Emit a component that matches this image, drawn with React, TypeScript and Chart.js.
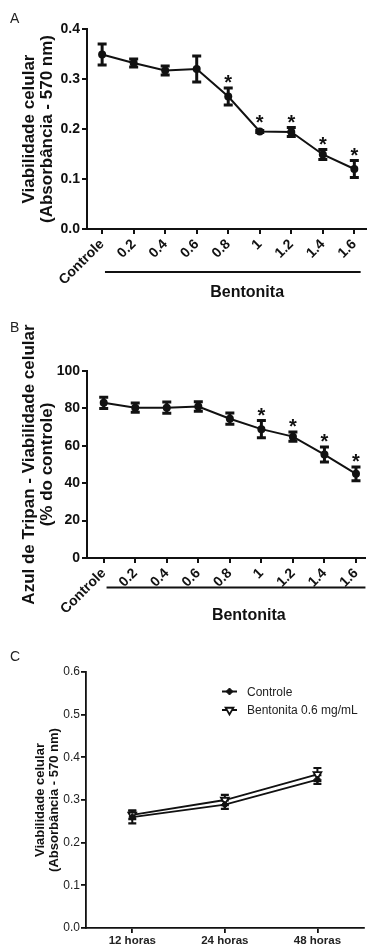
import React, { useEffect, useRef } from 'react';
import { Chart, registerables } from 'chart.js';
import { drawPoint } from 'chart.js/helpers';

Chart.register(...registerables);

const FONT = "'Liberation Sans', Arial, Helvetica, sans-serif";

// ---------- Panel A ----------
const concentracoes = ['Controle', '0.2', '0.4', '0.6', '0.8', '1', '1.2', '1.4', '1.6'];
const absorbanciaA = [0.349, 0.332, 0.317, 0.320, 0.265, 0.195, 0.194, 0.149, 0.120];
const erroA = [0.021, 0.008, 0.009, 0.026, 0.017, 0.002, 0.009, 0.010, 0.017];
const signifA = [false, false, false, false, true, true, true, true, true];
const ticksA = [0, 0.1, 0.2, 0.3, 0.4];
const tituloA = ['Viabilidade celular', '(Absorbância - 570 nm)'];

// ---------- Panel B ----------
const tripanB = [83.0, 80.4, 80.4, 81.0, 74.5, 68.9, 64.9, 55.3, 45.0];
const erroB = [3.0, 2.5, 3.0, 2.5, 3.0, 4.6, 2.5, 4.0, 3.7];
const signifB = [false, false, false, false, false, true, true, true, true];
const ticksB = [0, 20, 40, 60, 80, 100];
const tituloB = ['Azul de Tripan - Viabilidade celular', '(% do controle)'];

// ---------- Panel C ----------
const tempos = ['12 horas', '24 horas', '48 horas'];
const controleC = [0.260, 0.289, 0.348];
const erroControleC = [0.015, 0.010, 0.010];
const bentonitaC = [0.265, 0.300, 0.360];
const erroBentonitaC = [0.010, 0.012, 0.015];
const ticksC = [0, 0.1, 0.2, 0.3, 0.4, 0.5, 0.6];
const tituloC = ['Viabilidade celular', '(Absorbância - 570 nm)'];
const legendaC = ['Controle', 'Bentonita 0.6 mg/mL'];

const INK = '#111';

const errorBarPlugin = {
  id: 'errorBars',
  beforeDatasetsDraw(chart: any, _a: any, opts: any) {
    const ctx = chart.ctx;
    const ys = chart.scales.y;
    chart.data.datasets.forEach((ds: any, i: number) => {
      if (!ds.errors) return;
      const meta = chart.getDatasetMeta(i);
      ctx.save();
      ctx.strokeStyle = opts.color || INK;
      meta.data.forEach((pt: any, j: number) => {
        const v = ds.data[j].y;
        const e = ds.errors[j];
        const x = pt.x;
        const yt = ys.getPixelForValue(v + e);
        const yb = ys.getPixelForValue(v - e);
        ctx.beginPath();
        ctx.lineWidth = opts.stem;
        ctx.moveTo(x, yt);
        ctx.lineTo(x, yb);
        ctx.stroke();
        ctx.beginPath();
        ctx.lineWidth = opts.width;
        ctx.moveTo(x - opts.cap, yt);
        ctx.lineTo(x + opts.cap, yt);
        ctx.moveTo(x - opts.cap, yb);
        ctx.lineTo(x + opts.cap, yb);
        ctx.stroke();
      });
      ctx.restore();
    });
  },
};

const asteriskPlugin = {
  id: 'asterisks',
  afterDatasetsDraw(chart: any, _a: any, opts: any) {
    const ctx = chart.ctx;
    const ys = chart.scales.y;
    chart.data.datasets.forEach((ds: any, i: number) => {
      if (!ds.signif) return;
      const meta = chart.getDatasetMeta(i);
      ctx.save();
      ctx.fillStyle = INK;
      ctx.font = `${opts.weight || 'normal'} ${opts.size}px ${FONT}`;
      ctx.textAlign = 'center';
      ctx.textBaseline = 'alphabetic';
      meta.data.forEach((pt: any, j: number) => {
        if (!ds.signif[j]) return;
        const v = ds.data[j].y;
        const e = ds.errors ? ds.errors[j] : 0;
        const top = Math.min(ys.getPixelForValue(v + e), pt.y - (ds.pointRadius || 0));
        ctx.fillText('*', pt.x, top + opts.shift);
      });
      ctx.restore();
    });
  },
};

const groupLabelPlugin = {
  id: 'groupLabel',
  afterDraw(chart: any, _a: any, opts: any) {
    if (!opts || !opts.text) return;
    const ctx = chart.ctx;
    const xs = chart.scales.x;
    const area = chart.chartArea;
    ctx.save();
    ctx.strokeStyle = INK;
    ctx.lineWidth = 2;
    const ly = area.bottom + opts.lineOffset;
    ctx.beginPath();
    ctx.moveTo(xs.getPixelForValue(opts.lineFrom), ly);
    ctx.lineTo(xs.getPixelForValue(opts.lineTo), ly);
    ctx.stroke();
    ctx.fillStyle = INK;
    ctx.font = `bold 16px ${FONT}`;
    ctx.textAlign = 'center';
    ctx.textBaseline = 'alphabetic';
    ctx.fillText(opts.text, xs.getPixelForValue(opts.textAt), area.bottom + opts.textOffset);
    ctx.restore();
  },
};

const panelLetterPlugin = {
  id: 'panelLetter',
  afterDraw(chart: any, _a: any, opts: any) {
    if (!opts || !opts.text) return;
    const ctx = chart.ctx;
    ctx.save();
    ctx.fillStyle = '#222';
    ctx.font = `14px ${FONT}`;
    ctx.textAlign = 'left';
    ctx.textBaseline = 'alphabetic';
    ctx.fillText(opts.text, opts.x, opts.y);
    ctx.restore();
  },
};

const customLegendPlugin = {
  id: 'customLegend',
  afterDraw(chart: any, _a: any, opts: any) {
    if (!opts || !opts.show) return;
    const ctx = chart.ctx;
    chart.data.datasets.forEach((ds: any, i: number) => {
      const y = opts.y + i * opts.rowGap;
      const x0 = opts.x;
      ctx.save();
      ctx.strokeStyle = ds.borderColor;
      ctx.lineWidth = 2;
      ctx.beginPath();
      ctx.moveTo(x0, y);
      ctx.lineTo(x0 + opts.lineLen, y);
      ctx.stroke();
      ctx.fillStyle = ds.pointBackgroundColor;
      ctx.strokeStyle = ds.pointBorderColor;
      ctx.lineWidth = ds.pointBorderWidth;
      drawPoint(ctx, {
        pointStyle: ds.pointStyle,
        rotation: ds.pointRotation || 0,
        radius: ds.pointRadius,
        borderWidth: ds.pointBorderWidth,
      } as any, x0 + opts.lineLen / 2, y);
      ctx.fillStyle = '#222';
      ctx.font = `12px ${FONT}`;
      ctx.textAlign = 'left';
      ctx.textBaseline = 'middle';
      ctx.fillText(ds.label, x0 + opts.lineLen + 10, y + 1);
      ctx.restore();
    });
  },
};

function toPoints(values: number[]) {
  return values.map((v, i) => ({ x: i, y: v }));
}

function makeConfig(p: any) {
  const {
    cats, datasets, yTicks, yMax, yDecimals, title, titleSize, titlePad, titleLH,
    xMin, xMax, axisLeft, padTop, xHeight, rotation, tickFont, tickWeight, xTickFont, xTickWeight,
    tickColor, axisWidth, xPad, yPad, plugins,
  } = p;
  return {
    type: 'line',
    data: { datasets },
    options: {
      responsive: false,
      animation: false,
      events: [],
      layout: { padding: { top: padTop, left: 0, right: 0, bottom: 0 } },
      plugins: {
        legend: { display: false },
        tooltip: { enabled: false },
        ...plugins,
      },
      scales: {
        x: {
          type: 'linear',
          min: xMin,
          max: xMax,
          afterBuildTicks: (axis: any) => {
            axis.ticks = cats.map((_: string, i: number) => ({ value: i }));
          },
          afterFit: (axis: any) => {
            axis.height = xHeight;
          },
          ticks: {
            autoSkip: false,
            minRotation: rotation,
            maxRotation: rotation,
            padding: xPad,
            color: tickColor,
            font: { family: FONT, size: xTickFont, weight: xTickWeight },
            callback: (v: number) => cats[Math.round(v)] ?? '',
          },
          grid: { display: true, drawOnChartArea: false, drawTicks: true, tickLength: 5, lineWidth: axisWidth, color: INK },
          border: { display: true, width: axisWidth, color: INK },
        },
        y: {
          type: 'linear',
          min: 0,
          max: yMax,
          afterBuildTicks: (axis: any) => {
            axis.ticks = yTicks.map((v: number) => ({ value: v }));
          },
          afterFit: (axis: any) => {
            axis.width = axisLeft;
          },
          ticks: {
            padding: yPad,
            color: tickColor,
            font: { family: FONT, size: tickFont, weight: tickWeight },
            callback: (v: number) => (yDecimals ? Number(v).toFixed(yDecimals) : String(v)),
          },
          grid: { display: true, drawOnChartArea: false, drawTicks: true, tickLength: 5, lineWidth: axisWidth, color: INK },
          border: { display: true, width: axisWidth, color: INK },
          title: {
            display: true,
            text: title,
            color: INK,
            font: { family: FONT, size: titleSize, weight: 'bold', lineHeight: titleLH },
            padding: { top: titlePad, bottom: 0 },
          },
        },
      },
    },
    plugins: [errorBarPlugin, asteriskPlugin, groupLabelPlugin, panelLetterPlugin, customLegendPlugin],
  };
}

function blackSeries(values: number[], errors: number[], signif: boolean[]) {
  return {
    label: 'Viabilidade',
    data: toPoints(values),
    errors,
    signif,
    borderColor: INK,
    borderWidth: 2,
    pointRadius: 4,
    pointBackgroundColor: INK,
    pointBorderColor: INK,
    pointBorderWidth: 0,
    tension: 0,
  };
}

const configA = () =>
  makeConfig({
    cats: concentracoes,
    datasets: [blackSeries(absorbanciaA, erroA, signifA)],
    yTicks: ticksA, yMax: 0.4, yDecimals: 1,
    title: tituloA, titleSize: 17, titlePad: 20, titleLH: 1.08,
    xMin: -0.48, xMax: 8.37, axisLeft: 87, padTop: 29, xHeight: 71, rotation: 45,
    tickFont: 14, tickWeight: 'bold', xTickFont: 14, xTickWeight: 'bold', tickColor: INK,
    axisWidth: 2, xPad: 2, yPad: 2,
    plugins: {
      errorBars: { width: 3, stem: 3, cap: 4.5 },
      asterisks: { size: 20, weight: 'bold', shift: 1 },
      groupLabel: { text: 'Bentonita', lineOffset: 43, textOffset: 68, lineFrom: 0.09, lineTo: 8.2, textAt: 4.6 },
      panelLetter: { text: 'A', x: 10, y: 23 },
      customLegend: { show: false },
    },
  });

const configB = () =>
  makeConfig({
    cats: concentracoes,
    datasets: [blackSeries(tripanB, erroB, signifB)],
    yTicks: ticksB, yMax: 100, yDecimals: 0,
    title: tituloB, titleSize: 17, titlePad: 20, titleLH: 1.08,
    xMin: -0.53, xMax: 8.3, axisLeft: 87, padTop: 71, xHeight: 67, rotation: 45,
    tickFont: 14, tickWeight: 'bold', xTickFont: 14, xTickWeight: 'bold', tickColor: INK,
    axisWidth: 2, xPad: 2, yPad: 2,
    plugins: {
      errorBars: { width: 3, stem: 3, cap: 4.5 },
      asterisks: { size: 20, weight: 'bold', shift: 1 },
      groupLabel: { text: 'Bentonita', lineOffset: 29.5, textOffset: 62, lineFrom: 0.09, lineTo: 8.3, textAt: 4.6 },
      panelLetter: { text: 'B', x: 10, y: 32 },
      customLegend: { show: false },
    },
  });

const configC = () =>
  makeConfig({
    cats: tempos,
    datasets: [
      {
        label: legendaC[0],
        data: toPoints(controleC),
        errors: erroControleC,
        borderColor: INK,
        borderWidth: 1.8,
        pointStyle: 'rectRot',
        pointRadius: 3.5,
        pointBackgroundColor: INK,
        pointBorderColor: INK,
        pointBorderWidth: 1,
        tension: 0,
      },
      {
        label: legendaC[1],
        data: toPoints(bentonitaC),
        errors: erroBentonitaC,
        borderColor: INK,
        borderWidth: 1.8,
        pointStyle: 'triangle',
        pointRotation: 180,
        rotation: 180,
        pointRadius: 4.5,
        pointBackgroundColor: '#fff',
        pointBorderColor: INK,
        pointBorderWidth: 1.8,
        tension: 0,
      },
    ],
    yTicks: ticksC, yMax: 0.6, yDecimals: 1,
    title: tituloC, titleSize: 13, titlePad: 33, titleLH: 1.08,
    xMin: -0.5, xMax: 2.5, axisLeft: 86, padTop: 47, xHeight: 20, rotation: 0,
    tickFont: 12, tickWeight: 'normal', xTickFont: 11.5, xTickWeight: 'bold', tickColor: '#222',
    axisWidth: 1.8, xPad: 1, yPad: 1,
    plugins: {
      errorBars: { width: 2.2, stem: 2, cap: 4 },
      asterisks: { size: 18, shift: 5 },
      groupLabel: { text: '' },
      panelLetter: { text: 'C', x: 10, y: 36 },
      customLegend: { show: true, x: 222, y: 66.5, rowGap: 18.5, lineLen: 15 },
    },
  });

function Panel({ top, height, make }: { top: number; height: number; make: () => any }) {
  const ref = useRef<HTMLCanvasElement | null>(null);
  useEffect(() => {
    if (!ref.current) return;
    const chart = new Chart(ref.current, make());
    return () => chart.destroy();
  }, [make]);
  return (
    <canvas
      ref={ref}
      width={370}
      height={height}
      style={{ position: 'absolute', left: 0, top, width: 370, height }}
    />
  );
}

export default function App() {
  return (
    <div style={{ position: 'absolute', left: 0, top: 0, width: 370, height: 948, background: '#fff', overflow: 'hidden' }}>
      <Panel top={0} height={300} make={configA} />
      <Panel top={300} height={325} make={configB} />
      <Panel top={625} height={323} make={configC} />
    </div>
  );
}
